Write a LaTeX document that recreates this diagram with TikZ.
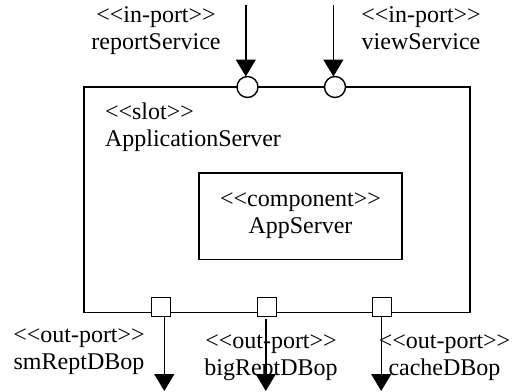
\documentclass[tikz,border=0pt]{standalone}
\usepackage{fontspec}
\setmainfont{Liberation Serif}
\usetikzlibrary{arrows.meta}
% stereotype guillemets written as two plain angle brackets each
\newcommand\stereo[1]{<\kern0pt<#1>\kern0pt>}
\begin{document}
\begin{tikzpicture}[x=1pt,y=-1pt,
  every node/.style={inner sep=0pt, outer sep=0pt},
  lbl/.style={font=\fontsize{24}{26.6}\selectfont, anchor=base},
  box/.style={draw, line width=1.4pt},
  inport/.style={draw, fill=white, circle, line width=1.4pt, minimum size=21pt},
  outport/.style={draw, fill=white, rectangle, line width=1.4pt, minimum size=19pt},
  flow/.style={line width=1.4pt, -{Triangle[width=20pt,length=17pt]}}]
\useasboundingbox (0,0) rectangle (514,391);

% slot and the component inside it
\node[box, minimum width=386pt, minimum height=225.7pt] (slot) at (277,199.85) {};
\node[box, minimum width=203pt, minimum height=86.5pt] (comp) at (300.5,216.25) {};

% texts (anchored on the baseline of their last line)
\node[lbl, align=center] (lin1) at (156,49.3) {\stereo{in-port}\\reportService};
\node[lbl, align=center] (lin2) at (421,49.3) {\stereo{in-port}\\viewService};
\node[lbl, align=left, anchor=base west] (lslot) at (105,146.2) {\stereo{slot}\\ApplicationServer};
\node[lbl, align=center] (lcomp) at (300.5,233.3) {\stereo{component}\\AppServer};
\node[lbl, align=center] (lout1) at (79,369.3) {\stereo{out-port}\\smReptDBop};
\node[lbl, align=center] (lout2) at (271,375) {\stereo{out-port}\\bigReptDBop};
\node[lbl, align=center] (lout3) at (444.5,375) {\stereo{out-port}\\cacheDBop};

% ports on the slot border
\node[inport] (p1) at (247.5,87) {};
\node[inport] (p2) at (335,87) {};
\node[outport] (q1) at (161.2,306.7) {};
\node[outport] (q2) at (266.7,306.7) {};
\node[outport] (q3) at (382.2,306.7) {};

% incoming service calls
\coordinate (s1) at (245.8,5);
\coordinate (s2) at (333.4,5);
\draw[flow] (s1) -- (s1 |- p1.north);
\draw[flow] (s2) -- (s2 |- p2.north);

% outgoing database operations
\coordinate (e1) at (164.3,391);
\coordinate (e2) at (265.8,391);
\coordinate (e3) at (381.2,391);
\draw[flow] (e1 |- q1.south) -- (e1);
\draw[flow] ([yshift=-3pt]e2 |- q2.south) -- (e2);
\draw[flow] (e3 |- q3.south) -- (e3);
\end{tikzpicture}
\end{document}
